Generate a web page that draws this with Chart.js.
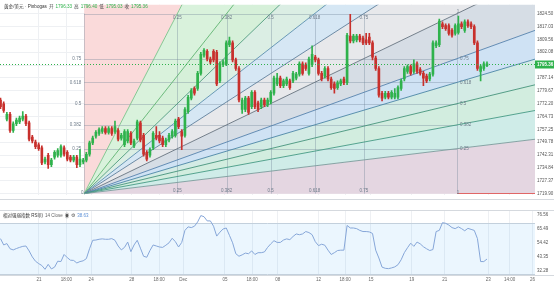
<!DOCTYPE html>
<html>
<head>
<meta charset="utf-8">
<script src="https://cdn.jsdelivr.net/npm/chart.js@4.4.1/dist/chart.umd.min.js"></script>
<style>
  html, body { margin: 0; padding: 0; background: #fff; }
  #wrap { position: relative; width: 554px; height: 282px; overflow: hidden; }
  #main { position: absolute; left: 0; top: 0; }
  #rsi { position: absolute; left: 0; top: 200px; }
</style>
</head>
<body>
<div id="wrap">
  <canvas id="main" width="554" height="200"></canvas>
  <canvas id="rsi" width="554" height="82"></canvas>
</div>
<script>
// time axis (candle index positions) and labels
const xMin = -0.16, xMax = 168.1;
const tickPos = [12.1, 20.7, 28.5, 41.3, 49.9, 57.5, 70.6, 79.1, 87.2, 100, 108.4, 116.5, 129.3, 139.7, 153.4, 160.1, 167.3];
const tickText = ['21', '18:00', '24', '28', '18:00', 'Dec', '05', '18:00', '08', '12', '18:00', '15', '19', '21', '23', '14:00', '26'];

const priceTicks = [1719.90, 1727.37, 1734.84, 1742.31, 1749.78, 1757.25, 1764.73, 1772.20,
  1779.67, 1787.14, 1794.61, 1802.08, 1809.56, 1817.03, 1824.50];
const rsiTicks = [32.28, 43.35, 54.42, 65.49, 76.56];

// XAU/USD candles
const opens = [1774.3, 1772.1, 1763.2, 1766.0, 1756.6, 1760.5, 1761.6, 1763.2, 1764.9, 1761.0,
  1752.7, 1749.9, 1748.3, 1746.6, 1738.3, 1742.2, 1736.7, 1741.1, 1742.2, 1742.2,
  1746.6, 1743.9, 1741.1, 1739.4, 1741.1, 1736.7, 1738.3, 1739.4, 1742.8, 1749.4,
  1753.3, 1754.9, 1756.0, 1757.7, 1755.5, 1757.7, 1756.0, 1756.6, 1752.2, 1748.3,
  1750.5, 1754.9, 1747.7, 1752.2, 1761.0, 1753.8, 1743.9, 1742.2, 1746.6, 1753.8,
  1753.8, 1752.2, 1748.3, 1751.1, 1753.3, 1753.8, 1763.2, 1756.0, 1753.8, 1767.6,
  1775.4, 1781.0, 1781.0, 1789.8, 1800.3, 1802.5, 1798.1, 1802.5, 1802.0, 1785.4,
  1794.8, 1795.3, 1806.4, 1807.5, 1797.6, 1792.6, 1768.8, 1768.8, 1775.4, 1770.4,
  1778.7, 1772.6, 1770.4, 1774.3, 1771.5, 1773.2, 1778.2, 1783.7, 1787.0, 1782.6,
  1783.7, 1785.4, 1785.4, 1787.0, 1789.3, 1795.3, 1794.8, 1789.8, 1794.8, 1799.2,
  1797.6, 1789.8, 1788.2, 1792.6, 1786.5, 1783.7, 1781.5, 1783.7, 1786.5, 1784.3,
  1811.4, 1808.6, 1809.2, 1811.4, 1810.3, 1809.2, 1810.8, 1807.5, 1798.7, 1792.6,
  1778.2, 1776.0, 1778.2, 1776.0, 1776.0, 1776.0, 1781.0, 1786.5, 1790.9, 1793.7,
  1790.9, 1795.3, 1792.0, 1789.8, 1788.2, 1786.5, 1789.3, 1805.8, 1806.4, 1818.6,
  1817.5, 1817.5, 1814.7, 1813.0, 1813.6, 1818.6, 1814.7, 1819.7, 1818.6, 1816.9,
  1807.5, 1790.9, 1792.6, 1794.2];
const highs = [1775.4, 1773.2, 1767.1, 1767.1, 1761.6, 1763.8, 1764.9, 1767.6, 1766.0, 1762.1,
  1753.8, 1751.0, 1749.4, 1747.7, 1741.1, 1743.3, 1740.5, 1745.0, 1746.1, 1748.3,
  1747.7, 1745.0, 1742.2, 1742.2, 1742.2, 1745.5, 1740.5, 1743.9, 1750.5, 1753.3,
  1756.6, 1758.2, 1758.8, 1758.8, 1758.8, 1758.8, 1762.1, 1757.7, 1754.9, 1757.1,
  1757.1, 1756.0, 1751.6, 1762.7, 1762.1, 1754.9, 1745.0, 1746.6, 1756.0, 1758.8,
  1756.0, 1753.3, 1752.2, 1754.9, 1757.1, 1763.2, 1764.3, 1757.1, 1769.9, 1777.0,
  1780.9, 1782.0, 1790.9, 1802.0, 1804.2, 1803.6, 1799.2, 1803.6, 1803.1, 1796.4,
  1797.6, 1808.6, 1810.9, 1808.6, 1798.7, 1793.7, 1775.4, 1776.5, 1776.5, 1779.8,
  1779.8, 1773.7, 1775.4, 1775.4, 1775.4, 1779.8, 1788.2, 1789.8, 1788.2, 1786.5,
  1787.6, 1786.5, 1790.9, 1790.4, 1796.4, 1796.4, 1795.9, 1799.2, 1805.8, 1800.3,
  1798.7, 1790.9, 1793.7, 1793.7, 1787.6, 1784.8, 1785.4, 1786.5, 1787.6, 1813.0,
  1824.1, 1812.5, 1812.5, 1812.5, 1811.4, 1813.0, 1813.0, 1808.6, 1799.8, 1793.7,
  1779.3, 1779.3, 1779.3, 1779.8, 1781.0, 1782.6, 1786.5, 1793.7, 1794.8, 1794.8,
  1797.6, 1796.4, 1793.1, 1790.9, 1789.3, 1790.4, 1808.6, 1808.6, 1821.3, 1819.7,
  1818.6, 1818.6, 1815.8, 1818.6, 1823.0, 1819.7, 1820.8, 1820.8, 1819.7, 1818.0,
  1808.6, 1794.8, 1796.4, 1796.4];
const lows = [1769.3, 1767.1, 1762.1, 1755.5, 1755.5, 1759.4, 1760.5, 1762.1, 1759.4, 1750.5,
  1749.4, 1746.1, 1745.0, 1736.7, 1737.2, 1734.5, 1735.6, 1740.0, 1741.1, 1741.1,
  1741.7, 1738.9, 1738.3, 1738.3, 1735.0, 1735.6, 1737.2, 1738.3, 1741.7, 1748.3,
  1752.2, 1753.8, 1754.9, 1754.4, 1754.4, 1753.8, 1754.9, 1750.5, 1751.0, 1747.2,
  1749.4, 1748.3, 1746.6, 1751.1, 1750.0, 1741.7, 1738.9, 1741.1, 1745.5, 1751.1,
  1749.4, 1747.2, 1747.2, 1750.0, 1752.2, 1752.7, 1757.7, 1745.5, 1752.7, 1766.5,
  1774.3, 1777.1, 1779.8, 1788.7, 1799.2, 1797.0, 1795.3, 1796.4, 1782.6, 1784.3,
  1793.7, 1794.2, 1805.3, 1796.4, 1791.5, 1773.2, 1766.5, 1767.6, 1766.0, 1769.3,
  1769.3, 1767.6, 1769.3, 1770.4, 1770.4, 1772.1, 1777.1, 1782.6, 1781.5, 1781.5,
  1782.6, 1780.4, 1784.3, 1786.0, 1788.2, 1788.7, 1791.5, 1788.7, 1793.7, 1796.4,
  1788.7, 1785.4, 1787.0, 1785.4, 1780.4, 1778.2, 1780.4, 1782.6, 1783.2, 1783.2,
  1807.5, 1807.5, 1808.1, 1808.1, 1806.4, 1806.4, 1806.4, 1797.6, 1791.5, 1776.0,
  1773.7, 1774.9, 1774.9, 1774.9, 1774.9, 1774.9, 1779.8, 1785.4, 1789.8, 1788.7,
  1789.8, 1789.8, 1788.7, 1782.6, 1784.3, 1785.4, 1788.2, 1804.7, 1805.3, 1815.8,
  1814.7, 1811.9, 1810.8, 1811.9, 1812.5, 1815.8, 1813.6, 1816.4, 1815.8, 1806.4,
  1791.5, 1785.4, 1791.5, 1793.7];
const closes = [1770.4, 1768.2, 1766.0, 1756.6, 1760.5, 1762.7, 1763.8, 1764.9, 1760.5, 1751.6,
  1750.5, 1747.2, 1746.1, 1737.8, 1740.0, 1736.7, 1739.4, 1743.9, 1745.0, 1747.2,
  1742.8, 1740.0, 1739.4, 1741.1, 1736.7, 1740.0, 1739.4, 1742.8, 1749.4, 1752.2,
  1755.5, 1757.1, 1757.7, 1755.5, 1757.7, 1754.9, 1758.8, 1751.6, 1753.8, 1756.0,
  1756.0, 1749.4, 1750.5, 1761.6, 1751.1, 1742.8, 1740.0, 1745.5, 1754.9, 1752.2,
  1750.5, 1748.3, 1751.1, 1753.8, 1756.0, 1762.1, 1758.8, 1753.3, 1768.8, 1775.9,
  1779.8, 1778.2, 1789.8, 1800.9, 1803.1, 1798.1, 1796.4, 1797.6, 1783.7, 1795.3,
  1796.4, 1807.5, 1808.6, 1797.6, 1792.6, 1774.3, 1774.3, 1775.4, 1767.1, 1778.7,
  1770.4, 1768.8, 1774.3, 1771.5, 1774.3, 1778.7, 1787.0, 1787.0, 1782.6, 1785.4,
  1786.5, 1781.5, 1789.8, 1789.3, 1795.3, 1789.8, 1792.6, 1798.1, 1800.9, 1797.6,
  1789.8, 1786.5, 1792.6, 1786.5, 1781.5, 1781.0, 1784.3, 1785.4, 1784.3, 1811.9,
  1808.6, 1811.4, 1811.4, 1809.2, 1807.5, 1807.5, 1807.5, 1799.2, 1792.6, 1777.1,
  1775.4, 1778.2, 1776.0, 1778.7, 1778.2, 1781.5, 1785.4, 1792.6, 1793.7, 1789.8,
  1795.3, 1790.9, 1789.8, 1787.0, 1785.4, 1789.3, 1807.5, 1807.5, 1820.2, 1816.9,
  1815.8, 1813.0, 1811.9, 1817.5, 1818.6, 1816.9, 1819.7, 1817.5, 1816.9, 1807.5,
  1792.6, 1793.7, 1795.3, 1795.36];

// RSI(14)
const rsi = [57.9, 52.9, 54.0, 49.9, 49.0, 50.1, 51.0, 51.8, 52.1, 48.2,
  43.5, 40.1, 38.2, 36.7, 33.7, 37.6, 34.0, 35.4, 40.1, 39.8,
  45.4, 42.9, 40.9, 40.7, 38.7, 39.8, 40.4, 42.1, 49.9, 56.6,
  56.8, 57.4, 57.7, 57.4, 57.4, 57.9, 56.6, 52.1, 49.0, 51.0,
  55.2, 47.6, 52.9, 56.6, 50.4, 44.0, 43.2, 48.5, 52.9, 52.1,
  51.3, 51.0, 52.7, 54.6, 58.2, 55.5, 51.3, 54.9, 64.4, 67.2,
  66.6, 67.7, 71.1, 76.1, 75.2, 71.9, 71.9, 67.7, 59.9, 63.0,
  65.5, 66.3, 60.5, 54.6, 46.0, 44.0, 45.1, 46.5, 46.0, 48.2,
  45.4, 46.8, 46.8, 47.4, 51.0, 53.8, 56.3, 54.9, 54.9, 56.8,
  57.7, 57.1, 59.6, 61.6, 61.0, 61.6, 63.5, 62.7, 61.0, 55.5,
  52.4, 53.5, 52.7, 48.8, 45.4, 46.8, 48.5, 48.8, 48.8, 68.3,
  66.3, 66.3, 65.8, 64.4, 63.5, 63.5, 63.2, 62.0, 48.8, 42.6,
  35.4, 34.5, 34.2, 34.8, 35.6, 37.3, 41.2, 46.8, 50.7, 54.3,
  51.8, 55.2, 53.8, 51.5, 49.9, 48.5, 49.3, 63.5, 64.4, 70.5,
  70.0, 68.6, 66.6, 65.8, 67.2, 65.8, 64.1, 66.0, 65.2, 64.4,
  57.9, 39.8, 39.8, 41.8];

// Fibonacci speed fan anchors: [candle index, price]
const fanStart = [26.3, 1719.9];
const fanEnd = [143.6, 1824.5];
const fanLevels = [0.25, 0.382, 0.5, 0.618, 0.75];
const lastPrice = 1795.36;

const up = '#2fb24c', down = '#c8302c';
const fontFam = "'Liberation Sans', 'Noto Sans CJK SC', sans-serif";
Chart.defaults.font.family = fontFam;

// wedge fills from steepest to flattest
const fanFills = ['#fadada', '#d9f2dc', '#d6f0d9', '#dbeee4', '#d6e7f4', '#e7e8eb',
  '#d6dde5', '#cfe2f4', '#d3ebe5', '#d2eddf', '#cfece8', '#e4d6e1'];
const fanLineColors = ['#7cc38a', '#5db36f', '#4d9b7c', '#5a8fae', '#5d7f9c', '#66737f',
  '#5581ad', '#4a84a6', '#44937a', '#449a83', '#7a9c9c'];

const fanPlugin = {
  id: 'fan',
  beforeDatasetsDraw(chart) {
    const {ctx, chartArea: a, scales: {x, y}} = chart;
    const ox = x.getPixelForValue(fanStart[0]), oy = y.getPixelForValue(fanStart[1]);
    const ex = x.getPixelForValue(fanEnd[0]), ey = y.getPixelForValue(fanEnd[1]);
    const w = ex - ox, h = oy - ey;

    const targets = [[ox, oy - 1]];
    fanLevels.forEach(t => targets.push([ox + t * w, ey]));
    targets.push([ex, ey]);
    fanLevels.slice().reverse().forEach(p => targets.push([ex, oy - p * h]));
    targets.push([ox + 1, oy]);
    const far = targets.map(([tx, ty]) => {
      const dx = tx - ox, dy = ty - oy, len = Math.hypot(dx, dy);
      return [ox + dx / len * 3000, oy + dy / len * 3000];
    });

    ctx.save();
    ctx.beginPath();
    ctx.rect(a.left, a.top, a.width, a.height);
    ctx.clip();

    for (let k = 0; k < far.length - 1; k++) {
      ctx.beginPath();
      ctx.moveTo(ox, oy);
      ctx.lineTo(far[k][0], far[k][1]);
      ctx.lineTo(far[k + 1][0], far[k + 1][1]);
      ctx.closePath();
      ctx.fillStyle = fanFills[k];
      ctx.fill();
    }

    // level grid inside the fan box
    ctx.lineWidth = 1;
    ctx.strokeStyle = 'rgba(110,130,150,0.35)';
    [0, ...fanLevels, 1].forEach(t => {
      const px = Math.round(ox + t * w) + 0.5;
      ctx.beginPath(); ctx.moveTo(px, oy); ctx.lineTo(px, ey); ctx.stroke();
    });
    [...fanLevels, 1].forEach(p => {
      const py = Math.round(oy - p * h) + 0.5;
      ctx.beginPath(); ctx.moveTo(ox, py); ctx.lineTo(ex, py); ctx.stroke();
    });

    // fan rays
    ctx.lineWidth = 0.9;
    for (let k = 1; k < far.length - 1; k++) {
      ctx.strokeStyle = fanLineColors[k - 1];
      ctx.beginPath();
      ctx.moveTo(ox, oy);
      ctx.lineTo(far[k][0], far[k][1]);
      ctx.stroke();
    }

    // base line extension
    ctx.strokeStyle = '#e06666';
    ctx.lineWidth = 1;
    ctx.beginPath(); ctx.moveTo(ex, Math.round(oy) - 0.5); ctx.lineTo(a.right, Math.round(oy) - 0.5); ctx.stroke();

    // labels
    ctx.font = '4.5px ' + fontFam;
    ctx.fillStyle = '#6f7c8a';
    ctx.textBaseline = 'middle';
    ctx.textAlign = 'center';
    fanLevels.forEach(t => {
      ctx.fillText(String(t), ox + t * w, ey + 4);
      ctx.fillText(String(t), ox + t * w, oy - 3);
    });
    ctx.fillText('1', ex + 1, ey - 2);
    ctx.fillText('1', ex + 1, oy - 1);
    ctx.fillText('0', ox - 2, oy - 1);
    ctx.textAlign = 'right';
    fanLevels.forEach(p => ctx.fillText(String(p), ox - 3, oy - p * h));
    ctx.textAlign = 'left';
    fanLevels.forEach(p => ctx.fillText(String(p), ex + 3, oy - p * h));
    ctx.restore();
  }
};

function drawSegments(ctx, x0, y0, parts) {
  let cx = x0;
  parts.forEach(([txt, col]) => {
    ctx.fillStyle = col;
    ctx.fillText(txt, cx, y0);
    cx += ctx.measureText(txt).width + 2;
  });
}

const overlayPlugin = {
  id: 'overlay',
  afterDraw(chart) {
    const {ctx, chartArea: a, scales: {y}} = chart;
    const py = Math.round(y.getPixelForValue(lastPrice)) + 0.5;
    ctx.save();
    ctx.strokeStyle = up;
    ctx.lineWidth = 1;
    ctx.setLineDash([1, 2]);
    ctx.beginPath(); ctx.moveTo(a.left, py); ctx.lineTo(a.right, py); ctx.stroke();
    ctx.setLineDash([]);
    ctx.fillStyle = up;
    ctx.fillRect(a.right, py - 4, chart.width - a.right, 8);
    ctx.fillStyle = '#fff';
    ctx.font = 'bold 4.5px ' + fontFam;
    ctx.textBaseline = 'middle';
    ctx.textAlign = 'left';
    ctx.fillText(lastPrice.toFixed(2), a.right + 2, py);

    // pane bottom border
    ctx.strokeStyle = '#d5d9de';
    ctx.beginPath(); ctx.moveTo(0, chart.height - 0.5); ctx.lineTo(chart.width, chart.height - 0.5); ctx.stroke();

    // header
    ctx.font = '4.6px ' + fontFam;
    ctx.textBaseline = 'middle';
    drawSegments(ctx, 4, 6.5, [
      ['黄金/美元 · Pinbogas', '#333'], ['开', '#444'], ['1796.33', up], ['高', '#444'], ['1796.40', up],
      ['低', '#444'], ['1795.03', up], ['收', '#444'], ['1795.36', up]
    ]);
    ctx.restore();
  }
};

const idx = closes.map((c, i) => i);
const colorOf = i => closes[i] >= opens[i] ? up : down;

new Chart(document.getElementById('main'), {
  type: 'bar',
  data: {
    datasets: [
      {
        label: 'wick',
        data: idx.map(i => ({x: i, y: [lows[i], highs[i]]})),
        backgroundColor: c => colorOf(c.dataIndex),
        barThickness: 1,
        grouped: false,
        order: 2
      },
      {
        label: 'body',
        data: idx.map(i => ({x: i, y: [opens[i], closes[i]]})),
        backgroundColor: c => colorOf(c.dataIndex),
        barThickness: 2,
        minBarLength: 1,
        grouped: false,
        order: 1
      }
    ]
  },
  options: {
    animation: false,
    responsive: false,
    layout: {padding: 0},
    plugins: {legend: {display: false}, tooltip: {enabled: false}},
    scales: {
      x: {
        type: 'linear', min: xMin, max: xMax, offset: false,
        grid: {color: '#eef0f3', drawTicks: false, offset: false},
        border: {display: false},
        ticks: {display: false},
        afterBuildTicks: s => { s.ticks = tickPos.map(v => ({value: v})); },
        afterFit: s => { s.height = 0; }
      },
      y: {
        position: 'right', min: 1718.96, max: 1829.65,
        grid: {color: '#eef0f3', drawTicks: false},
        border: {display: false},
        ticks: {font: {size: 4.5}, color: '#555', padding: 2, callback: v => v.toFixed(2)},
        afterBuildTicks: s => { s.ticks = priceTicks.map(v => ({value: v})); },
        afterFit: s => { s.width = 19; }
      }
    }
  },
  plugins: [fanPlugin, overlayPlugin]
});

const rsiPlugin = {
  id: 'rsiBand',
  beforeDatasetsDraw(chart) {
    const {ctx, chartArea: a, scales: {y}} = chart;
    const y70 = y.getPixelForValue(70), y30 = y.getPixelForValue(30);
    ctx.save();
    ctx.fillStyle = 'rgba(33,150,243,0.09)';
    ctx.fillRect(a.left, y70, a.width, y30 - y70);
    ctx.strokeStyle = '#c3d0dc';
    ctx.lineWidth = 1;
    [y70, y30].forEach(v => {
      const p = Math.round(v) + 0.5;
      ctx.beginPath(); ctx.moveTo(a.left, p); ctx.lineTo(a.right, p); ctx.stroke();
    });
    ctx.restore();
  },
  afterDraw(chart) {
    const {ctx, chartArea: a} = chart;
    ctx.save();
    ctx.strokeStyle = '#d5d9de';
    ctx.lineWidth = 1;
    ctx.beginPath(); ctx.moveTo(0, Math.round(a.top) + 0.5); ctx.lineTo(chart.width, Math.round(a.top) + 0.5); ctx.stroke();
    ctx.beginPath(); ctx.moveTo(0, Math.round(a.bottom) + 0.5); ctx.lineTo(chart.width, Math.round(a.bottom) + 0.5); ctx.stroke();
    ctx.font = '4.5px ' + fontFam;
    ctx.textBaseline = 'middle';
    drawSegments(ctx, 3, a.top + 6, [
      ['相对强弱指数 RSI(I)', '#333'], ['14 Close', '#666'], ['◉', '#555'], ['⚙', '#555'], ['38.63', '#5b8fd6']
    ]);
    ctx.restore();
  }
};

new Chart(document.getElementById('rsi'), {
  type: 'line',
  data: {
    datasets: [{
      data: rsi.map((v, i) => ({x: i, y: v})),
      borderColor: '#86a6d8',
      borderWidth: 1,
      pointRadius: 0,
      tension: 0
    }]
  },
  options: {
    animation: false,
    responsive: false,
    layout: {padding: {top: 10, left: 0, right: 0, bottom: 0}},
    plugins: {legend: {display: false}, tooltip: {enabled: false}},
    scales: {
      x: {
        type: 'linear', min: xMin, max: xMax,
        grid: {color: '#eef0f3', drawTicks: false},
        border: {display: false},
        ticks: {font: {size: 4.5}, color: '#666', padding: 2, maxRotation: 0, autoSkip: false,
          callback: (v, i) => tickText[i]},
        afterBuildTicks: s => { s.ticks = tickPos.map(v => ({value: v})); },
        afterFit: s => { s.height = 7; }
      },
      y: {
        position: 'right', min: 29.2, max: 80.5,
        grid: {display: false, drawTicks: false},
        border: {display: false},
        ticks: {font: {size: 4.5}, color: '#555', padding: 2, callback: v => v.toFixed(2)},
        afterBuildTicks: s => { s.ticks = rsiTicks.map(v => ({value: v})); },
        afterFit: s => { s.width = 19; }
      }
    }
  },
  plugins: [rsiPlugin]
});
</script>
</body>
</html>
